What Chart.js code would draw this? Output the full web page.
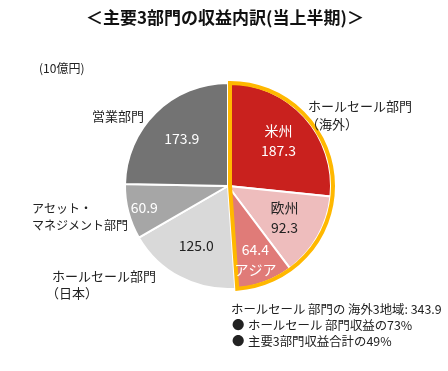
<!DOCTYPE html>
<html>
<head>
<meta charset="utf-8">
<script src="https://cdn.jsdelivr.net/npm/chart.js@4/dist/chart.umd.min.js"></script>
<style>
  body { margin: 0; background: #fff; }
  #wrap { width: 448px; height: 371px; }
</style>
</head>
<body>
<div id="wrap"><canvas id="pieChart" width="448" height="371"></canvas></div>
<script>
// Data (10億円)
const segments = ['米州', '欧州', 'アジア', 'ホールセール部門（日本）', 'アセット・マネジメント部門', '営業部門'];
const revenues = [187.3, 92.3, 64.4, 125.0, 60.9, 173.9];
const overseasCount = 3; // first three slices = ホールセール部門（海外）
const overseasTotal = 343.9; // as printed in the source
const wholesaleShare = 73; // %
const totalShare = 49; // %

const colors = ['#C9211E', '#EEBDBD', '#E07B78', '#D9D9D9', '#A6A6A6', '#737373'];
const FONT = '"Noto Sans CJK JP", "Noto Sans", sans-serif';
const TITLE = '＜主要3部門の収益内訳(当上半期)＞';

// inner label settings: radius fraction, text color, name line (if any)
const inner = [
  { r: 0.66, color: '#fff', name: '米州', nameFirst: true },
  { r: 0.63, color: '#222', name: '欧州', nameFirst: true },
  { r: 0.76, color: '#fff', name: 'アジア', nameFirst: false },
  { r: 0.66, color: '#222' },
  { r: 0.84, color: '#fff' },
  { r: 0.64, color: '#fff' }
];

const labelPlugin = {
  id: 'labels',
  afterDatasetsDraw(chart) {
    const ctx = chart.ctx;
    const arcs = chart.getDatasetMeta(0).data;

    // gold outline around overseas wholesale slices
    const a0 = arcs[0], aN = arcs[overseasCount - 1];
    ctx.save();
    ctx.beginPath();
    ctx.moveTo(a0.x + 2, a0.y);
    ctx.arc(a0.x + 2, a0.y, a0.outerRadius, a0.startAngle, aN.endAngle);
    ctx.closePath();
    ctx.lineWidth = 4;
    ctx.lineJoin = 'miter';
    ctx.strokeStyle = '#FFB800';
    ctx.stroke();
    ctx.restore();

    // values inside slices
    ctx.save();
    ctx.textAlign = 'center';
    ctx.textBaseline = 'middle';
    ctx.font = '14px ' + FONT;
    arcs.forEach((arc, i) => {
      const s = inner[i];
      const mid = (arc.startAngle + arc.endAngle) / 2;
      const x = arc.x + Math.cos(mid) * arc.outerRadius * s.r;
      const y = arc.y + Math.sin(mid) * arc.outerRadius * s.r;
      ctx.fillStyle = s.color;
      const val = revenues[i].toFixed(1);
      if (s.name) {
        const lines = s.nameFirst ? [s.name, val] : [val, s.name];
        ctx.fillText(lines[0], x, y - 10);
        ctx.fillText(lines[1], x, y + 10);
      } else {
        ctx.fillText(val, x, y);
      }
    });
    ctx.restore();

    // title
    ctx.save();
    ctx.fillStyle = '#111';
    ctx.textAlign = 'center';
    ctx.textBaseline = 'middle';
    ctx.font = 'bold 17px ' + FONT;
    ctx.fillText(TITLE, 225, 18);
    ctx.restore();

    // outside labels
    ctx.save();
    ctx.fillStyle = '#222';
    ctx.textBaseline = 'middle';
    ctx.textAlign = 'left';
    ctx.font = '12px ' + FONT;
    ctx.fillText('(10億円)', 39, 68);
    ctx.fillText('アセット・', 32, 208);
    ctx.fillText('マネジメント部門', 32, 225);
    ctx.font = '13px ' + FONT;
    ctx.fillText('営業部門', 92, 116);
    ctx.fillText('ホールセール部門', 52, 276);
    ctx.fillText('（日本）', 46, 293);
    ctx.fillText('ホールセール部門', 308, 106);
    ctx.fillText('（海外）', 306, 124);

    ctx.font = '12.4px ' + FONT;
    ctx.fillText('ホールセール 部門の 海外3地域: ' + overseasTotal.toFixed(1), 231, 309);
    ctx.fillText('●', 232, 325);
    ctx.fillText('ホールセール 部門収益の' + wholesaleShare + '%', 248, 325);
    ctx.fillText('●', 232, 341);
    ctx.fillText('主要3部門収益合計の' + totalShare + '%', 248, 341);
    ctx.restore();
  }
};

const ctx = document.getElementById('pieChart').getContext('2d');
new Chart(ctx, {
  type: 'pie',
  data: {
    labels: segments,
    datasets: [{
      data: revenues,
      backgroundColor: colors,
      borderColor: '#fff',
      borderWidth: 2
    }]
  },
  options: {
    responsive: false,
    animation: false,
    layout: { padding: { top: 82, bottom: 81, left: 124, right: 116 } },
    plugins: {
      legend: { display: false },
      tooltip: { enabled: false },
      title: { display: false }
    }
  },
  plugins: [labelPlugin]
});
</script>
</body>
</html>
